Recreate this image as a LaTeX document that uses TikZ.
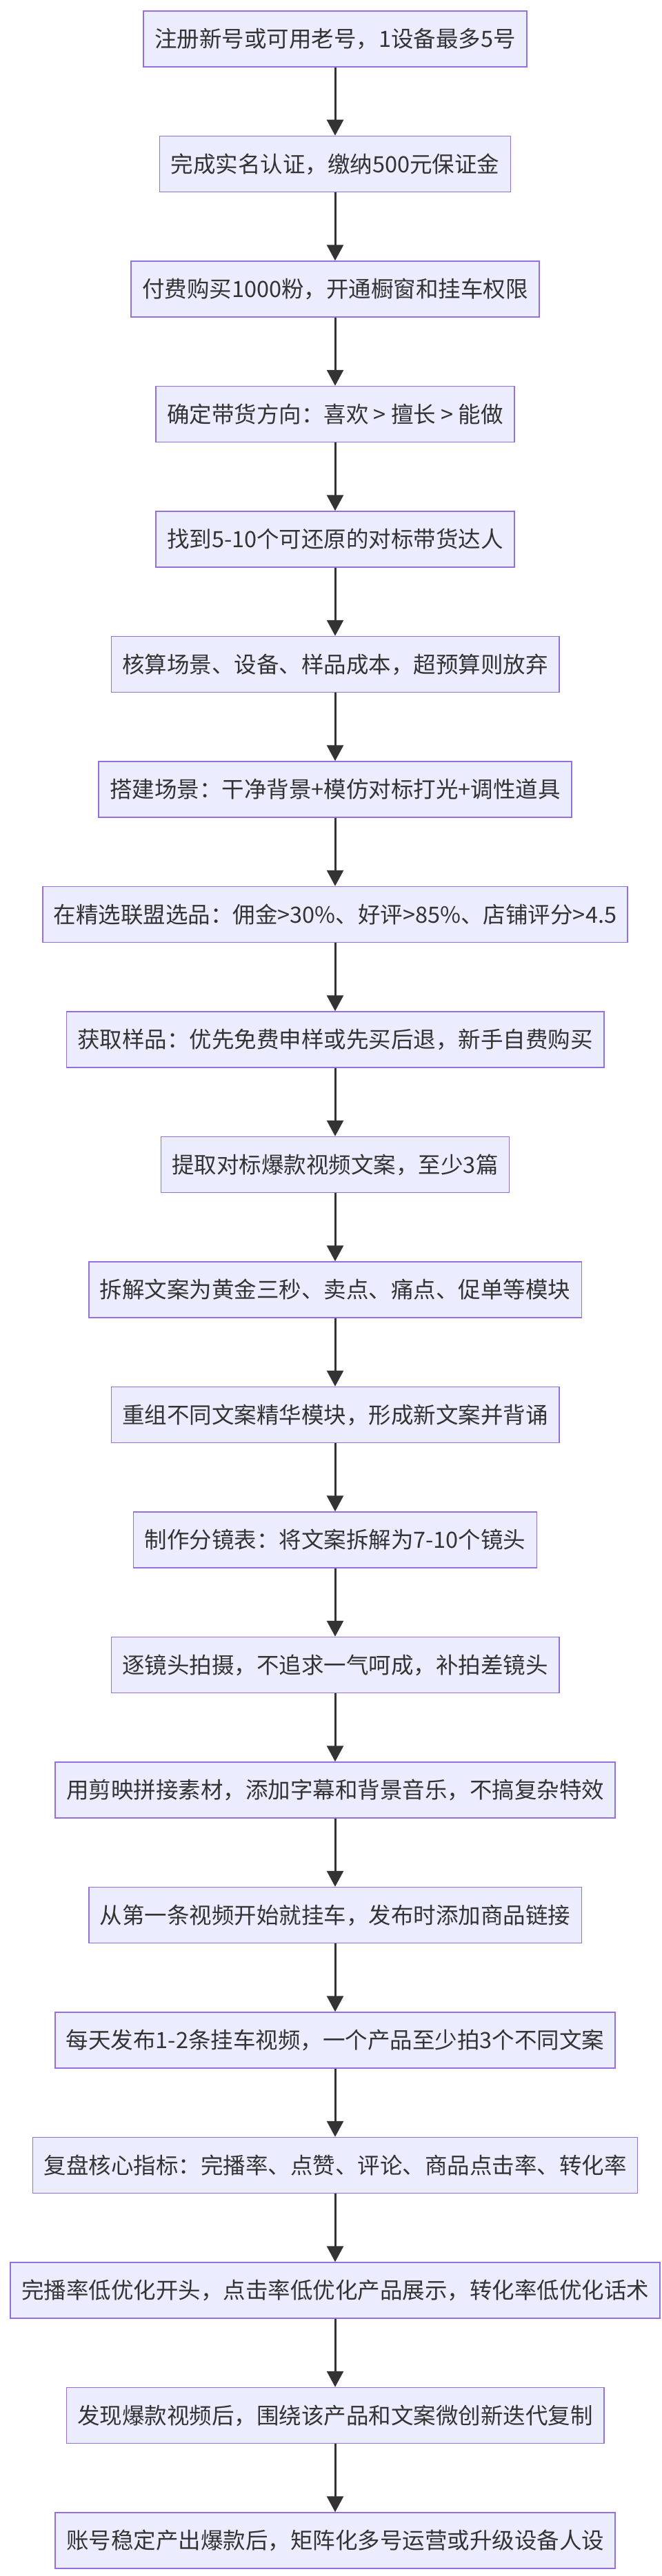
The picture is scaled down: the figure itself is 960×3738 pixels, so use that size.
\documentclass[tikz,border=0pt]{standalone}
\usepackage{fontspec}
\newfontfamily\cjk{Noto Sans CJK SC}
\usetikzlibrary{arrows.meta}
\definecolor{boxfill}{HTML}{ECECFF}
\definecolor{boxline}{HTML}{9370DB}
\definecolor{arr}{HTML}{333333}
\begin{document}
\begin{tikzpicture}[x=1pt,y=-1pt,
  stepbox/.style={draw=boxline,fill=boxfill,line width=1.5pt,minimum height=81pt,inner xsep=16pt,inner ysep=0pt,font=\cjk\fontsize{32.5}{36}\selectfont,text=arr},
  flow/.style={draw=arr,line width=3pt,-{Triangle[length=23pt,width=24pt]}}]
\useasboundingbox (0,0) rectangle (960,3738);
\foreach \t [count=\i] in {
注册新号或可用老号，1设备最多5号,
完成实名认证，缴纳500元保证金,
付费购买1000粉，开通橱窗和挂车权限,
确定带货方向：喜欢 > 擅长 > 能做,
找到5-10个可还原的对标带货达人,
核算场景、设备、样品成本，超预算则放弃,
搭建场景：干净背景+模仿对标打光+调性道具,
在精选联盟选品：佣金>30\%、好评>85\%、店铺评分>4.5,
获取样品：优先免费申样或先买后退，新手自费购买,
提取对标爆款视频文案，至少3篇,
拆解文案为黄金三秒、卖点、痛点、促单等模块,
重组不同文案精华模块，形成新文案并背诵,
制作分镜表：将文案拆解为7-10个镜头,
逐镜头拍摄，不追求一气呵成，补拍差镜头,
用剪映拼接素材，添加字幕和背景音乐，不搞复杂特效,
从第一条视频开始就挂车，发布时添加商品链接,
每天发布1-2条挂车视频，一个产品至少拍3个不同文案,
复盘核心指标：完播率、点赞、评论、商品点击率、转化率,
完播率低优化开头，点击率低优化产品展示，转化率低优化话术,
发现爆款视频后，围绕该产品和文案微创新迭代复制,
账号稳定产出爆款后，矩阵化多号运营或升级设备人设}
{\node[stepbox] (n\i) at (486,{56.5+181.5*(\i-1)}) {\t};}
\foreach \i [evaluate=\i as \j using int(\i+1)] in {1,...,20}
  \draw[flow] (n\i) -- (n\j);
\end{tikzpicture}
\end{document}
